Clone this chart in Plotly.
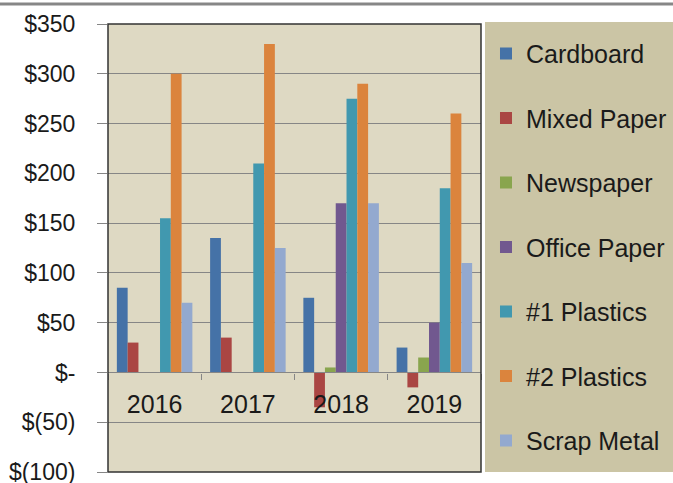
import plotly.graph_objects as go

years = ["2016", "2017", "2018", "2019"]
cardboard = [85, 135, 75, 25]
mixed_paper = [30, 35, -35, -15]
newspaper = [0, 0, 5, 15]
office_paper = [0, 0, 170, 50]
plastics1 = [155, 210, 275, 185]
plastics2 = [300, 330, 290, 260]
scrap_metal = [70, 125, 170, 110]

series_names = ["Cardboard", "Mixed Paper", "Newspaper", "Office Paper",
                "#1 Plastics", "#2 Plastics", "Scrap Metal"]
series_values = [cardboard, mixed_paper, newspaper, office_paper,
                 plastics1, plastics2, scrap_metal]
colors = ["#4572A7", "#AA4643", "#89A54E", "#71588F",
          "#4198AF", "#DB843D", "#93A9CF"]

ytick_vals = [-100, -50, 0, 50, 100, 150, 200, 250, 300, 350]
ytick_text = ["$(100)", "$(50)", "$-", "$50", "$100", "$150", "$200",
              "$250", "$300", "$350"]

FONT = "Liberation Sans"
fig = go.Figure()
for name, vals, col in zip(series_names, series_values, colors):
    fig.add_trace(go.Bar(x=years, y=vals, name=name, legendgroup=name,
                         marker=dict(color=col, line=dict(width=0))))

fig.update_layout(
    width=673, height=483,
    margin=dict(l=108, r=192, t=24, b=11, autoexpand=False),
    paper_bgcolor="white",
    plot_bgcolor="#DED9C3",
    barmode="group",
    bargap=0.19,
    bargroupgap=0,
    font=dict(family=FONT, size=25, color="#1a1a1a"),
    showlegend=True,
    legend=dict(x=1.0134, xanchor="left", y=0.985, yanchor="top",
                bgcolor="rgba(0,0,0,0)", tracegroupgap=29,
                font=dict(family=FONT, size=25, color="#1a1a1a"),
                itemwidth=30),
    xaxis=dict(type="category", anchor="free", position=100/450,
               showline=True, linecolor="#868686", linewidth=1.3,
               ticks="outside", ticklen=6, tickcolor="#868686",
               tickson="boundaries", showgrid=False,
               ticklabelstandoff=9, automargin=False,
               tickfont=dict(family=FONT, size=25, color="#1a1a1a")),
    yaxis=dict(range=[-100, 350], tickvals=ytick_vals, ticktext=ytick_text,
               showgrid=True, gridcolor="#868686", gridwidth=1.3,
               zeroline=False, ticks="outside", ticklen=10,
               tickcolor="#868686", ticklabelstandoff=17, automargin=False,
               ticklabeloverflow="allow",
               tickfont=dict(family=FONT, size=23, color="#1a1a1a")),
    shapes=[
        dict(type="rect", xref="paper", yref="paper", x0=1.0107, x1=1.55,
             y0=0, y1=1.0045, fillcolor="#CBC5A5", line=dict(width=0),
             layer="below"),
        dict(type="rect", xref="paper", yref="paper", x0=0, x1=1, y0=0, y1=1,
             line=dict(color="#333333", width=1.5), layer="above"),
        dict(type="line", xref="paper", yref="paper", x0=-0.4, x1=1.6,
             y0=1.0446, y1=1.0446, line=dict(color="#878787", width=3)),
    ],
)

fig.write_html("out.html", config={"displayModeBar": False},
               post_script="document.body.style.margin='0';")
